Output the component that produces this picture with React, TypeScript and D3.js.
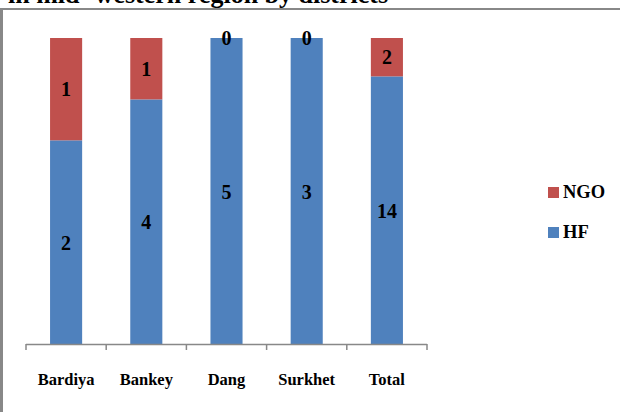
import React from "react";
import * as d3 from "d3";

const districts = ["Bardiya", "Bankey", "Dang", "Surkhet", "Total"];
const hf = [2, 4, 5, 3, 14];
const ngo = [1, 1, 0, 0, 2];
const seriesNames = ["NGO", "HF"];
const seriesColors = ["#C0504D", "#4F81BD"];

const W = 620;
const H = 412;
const FONT = "'Liberation Serif', 'Times New Roman', serif";

export default function App() {
  const x = d3
    .scaleBand<string>()
    .domain(districts)
    .range([26, 427])
    .paddingInner(0.6)
    .paddingOuter(0.3);
  const y = d3.scaleLinear().domain([0, 1]).range([345, 38]);

  const rows = districts.map((d, i) => ({ district: d, HF: hf[i], NGO: ngo[i] }));
  const stack = d3
    .stack<any>()
    .keys(["HF", "NGO"])
    .offset(d3.stackOffsetExpand);
  const layers = stack(rows);
  const colorOf = (k: string) => seriesColors[seriesNames.indexOf(k)];

  const step = x.step();
  const tickXs = d3.range(districts.length + 1).map((i) => 26 + i * step);

  return (
    <svg
      width={W}
      height={H}
      style={{ position: "absolute", left: 0, top: 0, background: "#fff" }}
    >
      <text
        x={8}
        y={3}
        fontFamily={FONT}
        fontWeight="bold"
        fontSize={26}
        fill="#000"
      >
        in mid- western region by districts
      </text>
      {/* chart frame */}
      <line x1={0} x2={W} y1={9} y2={9} stroke="#888" strokeWidth={2} />
      <line x1={1.5} x2={1.5} y1={9} y2={H} stroke="#888" strokeWidth={3} />

      {layers.map((layer) =>
        layer.map((seg, i) => (
          <rect
            key={layer.key + i}
            x={x(districts[i])}
            width={x.bandwidth()}
            y={y(seg[1])}
            height={y(seg[0]) - y(seg[1])}
            fill={colorOf(layer.key)}
          />
        ))
      )}

      {/* axis */}
      <line x1={26} x2={427} y1={344.5} y2={344.5} stroke="#888" strokeWidth={1.5} />
      {tickXs.map((tx, i) => (
        <line key={i} x1={tx} x2={tx} y1={344} y2={350} stroke="#888" strokeWidth={1.5} />
      ))}
      {districts.map((d) => (
        <text
          key={d}
          x={(x(d) as number) + x.bandwidth() / 2}
          y={385}
          textAnchor="middle"
          fontFamily={FONT}
          fontWeight="bold"
          fontSize={16.5}
        >
          {d}
        </text>
      ))}

      {/* value labels */}
      {layers.map((layer) =>
        layer.map((seg, i) => (
          <text
            key={"l" + layer.key + i}
            x={(x(districts[i]) as number) + x.bandwidth() / 2}
            y={(y(seg[0]) + y(seg[1])) / 2}
            dy="0.35em"
            textAnchor="middle"
            fontFamily={FONT}
            fontWeight="bold"
            fontSize={20}
          >
            {layer.key === "HF" ? hf[i] : ngo[i]}
          </text>
        ))
      )}

      {/* legend */}
      {seriesNames.map((s, i) => (
        <g key={s} transform={`translate(548, ${187 + i * 40})`}>
          <rect width={11} height={11} fill={seriesColors[i]} />
          <text
            x={15}
            y={11}
            fontFamily={FONT}
            fontWeight="bold"
            fontSize={18.5}
          >
            {s}
          </text>
        </g>
      ))}
    </svg>
  );
}
